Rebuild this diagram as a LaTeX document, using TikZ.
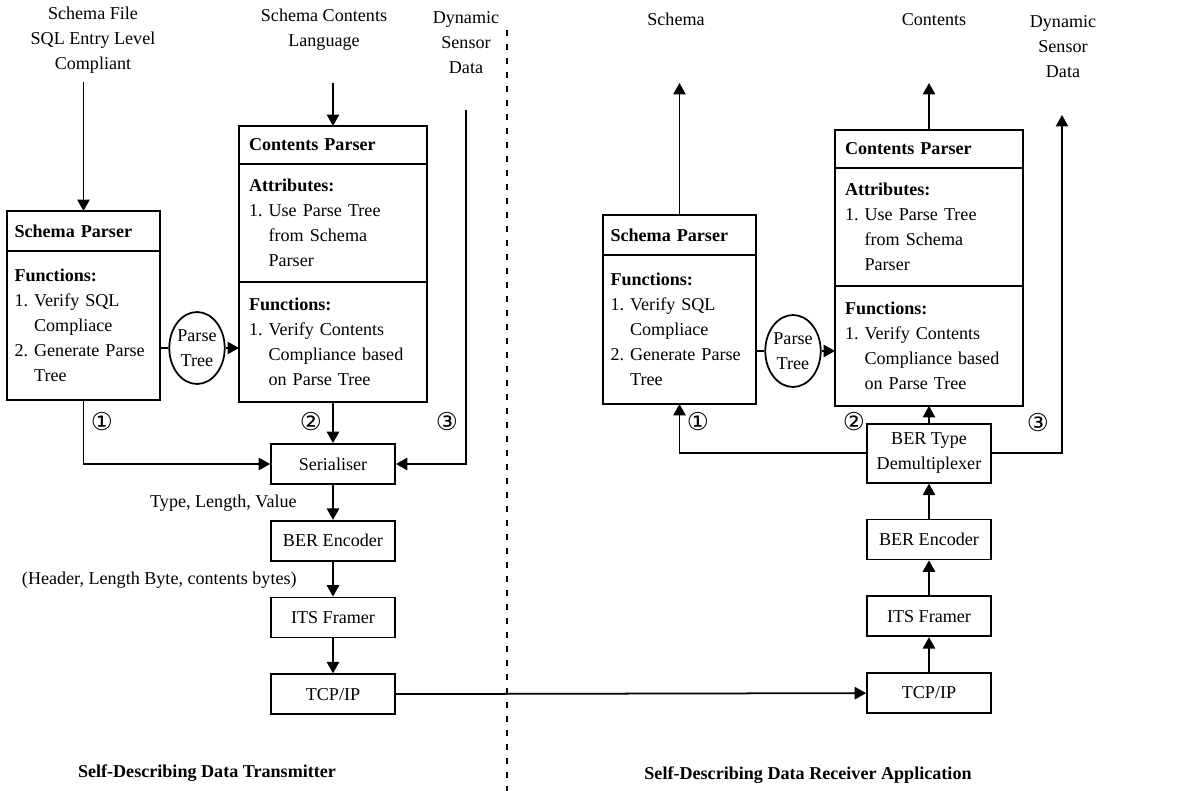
\documentclass[tikz,border=0pt]{standalone}
\usepackage{fontspec}
\setmainfont{Liberation Serif}
\newfontfamily\circfont{DejaVu Sans}
\usepackage{tikz}
\usetikzlibrary{arrows.meta, positioning, shapes.geometric}
\tikzstyle{block} = [rectangle, minimum width=2.48cm, minimum height=0.8cm, text centered, draw=black, line width=1pt]
\tikzstyle{schemapart} = [rectangle, text width=2.76cm, inner xsep=0.15cm, outer sep=0pt, align=left, draw=black, line width=1pt]
\tikzstyle{contentpart} = [rectangle, text width=3.36cm, inner xsep=0.2cm, outer sep=0pt, align=left, draw=black, line width=1pt]
\tikzstyle{tree} = [ellipse, minimum width=1cm, minimum height=1.44cm, inner sep=0pt, align=center, draw=black, line width=1pt]
\tikzstyle{arrow} = [line width=1pt, -{Triangle[length=6.5pt, width=7pt]}]
\tikzstyle{link} = [line width=1pt]
\tikzstyle{num} = [font={\circfont\fontsize{14pt}{16pt}\selectfont}]
\tikzset{
  font={\fontsize{10.3pt}{14.2pt}\selectfont}}

\begin{document}
\frenchspacing
\begin{tikzpicture}[x=0.02cm, y=-0.02cm, node distance=0.7cm]
    \useasboundingbox (0,0) rectangle (1178,791);

    % transmitter side
    \node (schemafile) [align=center] at (93,40) {Schema File\\SQL Entry Level\\Compliant};
    \node (contentslang) [align=center] at (324,30) {Schema Contents\\Language};
    \node (sensortx) [align=center] at (466,43) {Dynamic\\Sensor\\Data};

    \node (sphead) [schemapart, minimum height=0.8cm, anchor=north] at (83.5,211) {\textbf{Schema Parser}};
    \node (spbody) [schemapart, minimum height=2.98cm, below=0pt of sphead] {\textbf{Functions:}\\1. Verify SQL\\\hphantom{1.~}Compliace\\2. Generate Parse\\\hphantom{2.~}Tree};
    \node (cphead) [contentpart, minimum height=0.76cm, anchor=north] at (333,126) {\textbf{Contents Parser}};
    \node (cpattr) [contentpart, minimum height=2.36cm, below=0pt of cphead] {\textbf{Attributes:}\\1. Use Parse Tree\\\hphantom{1.~}from Schema\\\hphantom{1.~}Parser};
    \node (cpfunc) [contentpart, minimum height=2.4cm, below=0pt of cpattr] {\textbf{Functions:}\\1. Verify Contents\\\hphantom{1.~}Compliance based\\\hphantom{1.~}on Parse Tree};
    \node (ptree) [tree] at (197,348) {Parse\\Tree};

    \node (serialiser) [block] at (333,464) {Serialiser};
    \node (berenc) [block, below=of serialiser] {BER Encoder};
    \node (itstx) [block, below=of berenc] {ITS Framer};
    \node (tcptx) [block, below=of itstx] {TCP/IP};

    \node (tlv) [anchor=east, inner sep=0pt] at (297,503) {Type, Length, Value};
    \node (hdr) [anchor=east, inner sep=0pt] at (297,580) {(Header, Length Byte, contents bytes)};
    \node (n1tx) [num] at (102,422) {①};
    \node (n2tx) [num] at (311,422) {②};
    \node (n3tx) [num] at (447,422) {③};
    \node (txtitle) at (207,773) {\textbf{Self-Describing Data Transmitter}};

    \coordinate (c1) at (83.5,82);
    \coordinate (c2) at (333,83);
    \coordinate (c3) at (466,110);

    \draw [arrow] (c1) -- (sphead);
    \draw [arrow] (c2) -- (cphead);
    \draw [link] (spbody.east |- ptree) -- (ptree);
    \draw [arrow] (ptree) -- (ptree -| cpfunc.west);
    \draw [arrow] (spbody) |- (serialiser);
    \draw [arrow] (cpfunc) -- (serialiser);
    \draw [arrow] (c3) |- (serialiser);
    \draw [arrow] (serialiser) -- (berenc);
    \draw [arrow] (berenc) -- (itstx);
    \draw [arrow] (itstx) -- (tcptx);

    \coordinate (d1) at (507,30);
    \coordinate (d2) at (507,791);
    \draw [line width=1pt, dash pattern=on 0.12cm off 0.16cm] (d1) -- (d2);

    % receiver side
    \node (schemaout) at (676,19) {Schema};
    \node (contentsout) at (934,20) {Contents};
    \node (sensorrx) [align=center] at (1063,47) {Dynamic\\Sensor\\Data};

    \node (sphead2) [schemapart, minimum height=0.8cm, anchor=north] at (679.5,215) {\textbf{Schema Parser}};
    \node (spbody2) [schemapart, minimum height=2.98cm, below=0pt of sphead2] {\textbf{Functions:}\\1. Verify SQL\\\hphantom{1.~}Compliace\\2. Generate Parse\\\hphantom{2.~}Tree};
    \node (cphead2) [contentpart, minimum height=0.76cm, anchor=north] at (929,130) {\textbf{Contents Parser}};
    \node (cpattr2) [contentpart, minimum height=2.36cm, below=0pt of cphead2] {\textbf{Attributes:}\\1. Use Parse Tree\\\hphantom{1.~}from Schema\\\hphantom{1.~}Parser};
    \node (cpfunc2) [contentpart, minimum height=2.4cm, below=0pt of cpattr2] {\textbf{Functions:}\\1. Verify Contents\\\hphantom{1.~}Compliance based\\\hphantom{1.~}on Parse Tree};
    \node (ptree2) [tree] at (793,351) {Parse\\Tree};

    \node (tcprx) [block] at (929,693) {TCP/IP};
    \node (itsrx) [block, above=of tcprx] {ITS Framer};
    \node (berrx) [block, above=of itsrx] {BER Encoder};
    \node (demux) [block, minimum height=1.18cm, align=center, above=of berrx] {BER Type\\Demultiplexer};

    \node (n1rx) [num] at (698,422) {①};
    \node (n2rx) [num] at (854,422) {②};
    \node (n3rx) [num] at (1038,423) {③};
    \node (rxtitle) at (808,775) {\textbf{Self-Describing Data Receiver Application}};

    \coordinate (r1) at (679.5,83);
    \coordinate (r2) at (929,83);
    \coordinate (r3) at (1062,115);

    \draw [arrow] (sphead2) -- (r1);
    \draw [arrow] (cphead2) -- (r2);
    \draw [link] (spbody2.east |- ptree2) -- (ptree2);
    \draw [arrow] (ptree2) -- (ptree2 -| cpfunc2.west);
    \draw [arrow] (demux) -| (spbody2);
    \draw [arrow] (demux) -- (cpfunc2);
    \draw [arrow] (demux) -| (r3);
    \draw [arrow] (berrx) -- (demux);
    \draw [arrow] (itsrx) -- (berrx);
    \draw [arrow] (tcprx) -- (itsrx);

    \draw [arrow] (tcptx) -- (tcprx);
\end{tikzpicture}
\end{document}
